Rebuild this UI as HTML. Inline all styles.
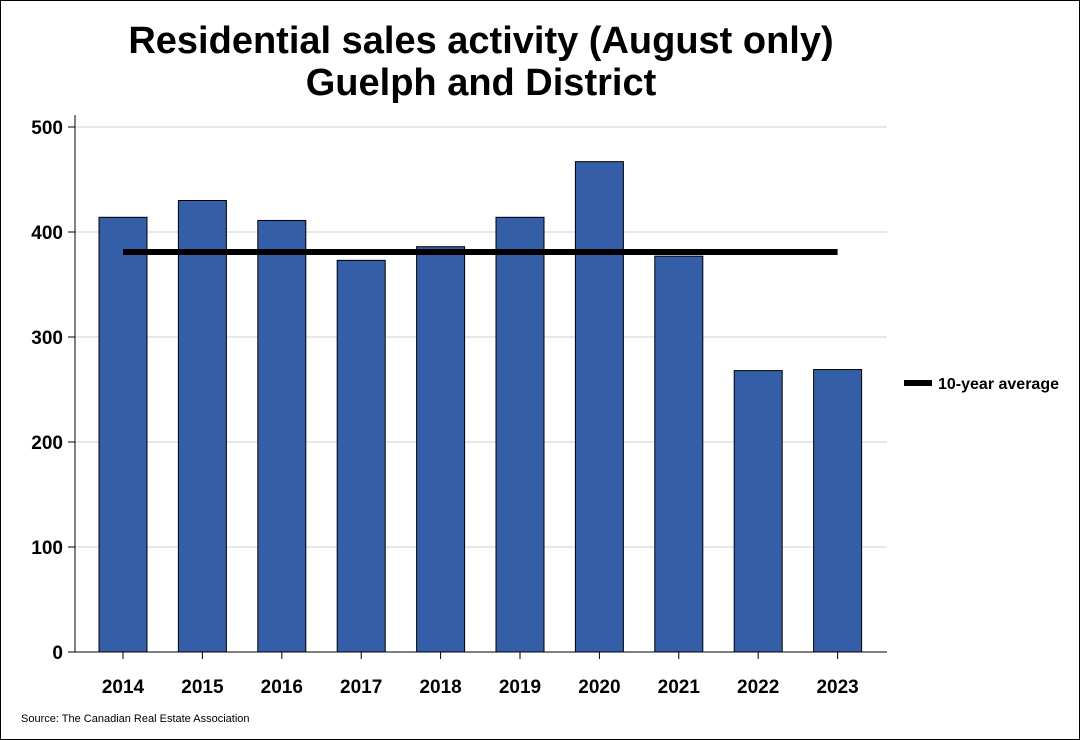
<!DOCTYPE html>
<html><head><meta charset="utf-8">
<style>
html,body{margin:0;padding:0;background:#fff;}
#wrap{position:relative;width:1078px;height:738px;border:1px solid #000;overflow:hidden;}
svg text{font-family:"Liberation Sans",Arial,sans-serif;}
</style></head>
<body>
<div id="wrap">
<svg id="chart" width="1078" height="738">
<text x="480" y="52" text-anchor="middle" font-size="38" font-weight="bold">Residential sales activity (August only)</text>
<text x="480" y="94" text-anchor="middle" font-size="38" font-weight="bold">Guelph and District</text>
<g id="grid"></g>
<g id="bars"></g>
<g id="avg"></g>
<g id="axes"></g>
<g>
<line x1="903" y1="382" x2="931" y2="382" stroke="#000" stroke-width="6"/>
<text x="937" y="388" font-size="16" font-weight="bold">10-year average</text>
</g>
<text x="20" y="721" font-size="11">Source: The Canadian Real Estate Association</text>
</svg>
</div>
<script>
const categories = ["2014","2015","2016","2017","2018","2019","2020","2021","2022","2023"];
const salesValues = [414,430,411,373,386,414,467,377,268,269];
const averageValue = [381];
const yTicks = [0,100,200,300,400,500];

const NS="http://www.w3.org/2000/svg";
const x0=74, x1=886, yBase=651, yTop=126, yMax=500;
const step=79.4, firstCenter=122, barW=48;
function xPos(i){return firstCenter+i*step;}
function yPos(v){return yBase-(v/yMax)*(yBase-yTop);}
function mk(tag,attrs,parent){const e=document.createElementNS(NS,tag);for(const k in attrs)e.setAttribute(k,attrs[k]);parent.appendChild(e);return e;}

const grid=document.getElementById('grid'), bars=document.getElementById('bars'), axes=document.getElementById('axes'), avg=document.getElementById('avg');
yTicks.forEach(t=>{
  const y=yPos(t);
  if(t>0){const g=mk('line',{x1:x0,x2:x1,y1:y,y2:y,stroke:'#d0d0d0','stroke-width':1},grid);
  
  }
  const tk=mk('line',{x1:x0-7,x2:x0,y1:y,y2:y,stroke:'#000'},axes);
  
  
  const tl=mk('text',{x:x0-12,y:y+7,'text-anchor':'end','font-size':19,'font-weight':'bold'},axes);
  tl.textContent=t;
  
  
});
salesValues.forEach((v,i)=>{
  const cx=xPos(i);
  const r=mk('rect',{x:cx-barW/2,y:yPos(v),width:barW,height:yBase-yPos(v),fill:'#345ea8',stroke:'#000','stroke-width':1},bars);
  
  
  const tk=mk('line',{x1:cx,x2:cx,y1:yBase,y2:yBase+7,stroke:'#000'},axes);
  
  
  const tl=mk('text',{x:cx,y:yBase+41,'text-anchor':'middle','font-size':19,'font-weight':'bold'},axes);
  tl.textContent=categories[i];
  
  
});
const ay=mk('line',{x1:x0,x2:x0,y1:114,y2:yBase,stroke:'#000'},axes);


const ax=mk('line',{x1:x0,x2:x1,y1:yBase,y2:yBase,stroke:'#000'},axes);


const al=mk('line',{x1:xPos(0),x2:xPos(categories.length-1),y1:yPos(averageValue[0]),y2:yPos(averageValue[0]),stroke:'#000','stroke-width':6},avg);


</script>
</body></html>
